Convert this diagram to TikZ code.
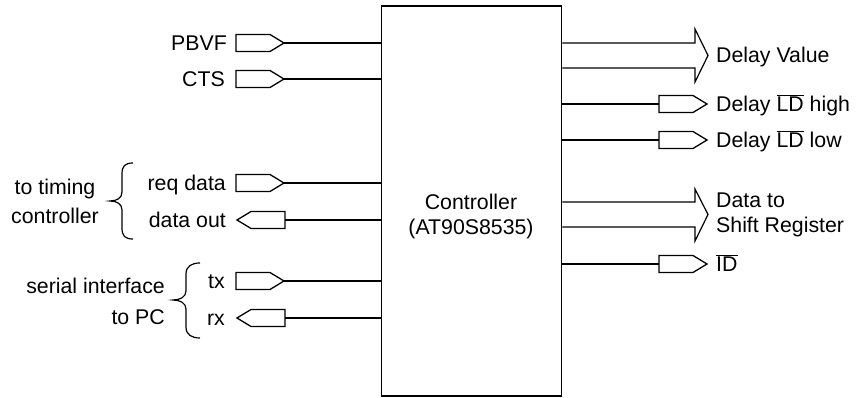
\documentclass[tikz,border=0pt]{standalone}
\usepackage{fontspec}
\setmainfont{Liberation Sans}
\newcommand\ovl[1]{$\overline{\hbox{#1}}$}
\begin{document}
\begin{tikzpicture}[x=1pt,y=-1pt,
  lbl/.style={font=\fontsize{21.3}{25}\selectfont, inner sep=0pt},
  lblE/.style={lbl, anchor=base east},
  lblW/.style={lbl, anchor=base west},
  shp/.style={line width=1.3pt, line join=miter},
  wire/.style={line width=1.2pt},
  bus/.style={line width=1.2pt, line join=miter},
  brace/.style={line width=1.2pt},
  sigR/.pic={\draw[shp] (-24,-8.5) -- (10,-8.5) -- (24,0) -- (10,8.5) -- (-24,8.5) -- cycle;
     \coordinate (-in) at (-24,0); \coordinate (-out) at (24,0);},
  sigL/.pic={\draw[shp] (24,-8.5) -- (-10,-8.5) -- (-24,0) -- (-10,8.5) -- (24,8.5) -- cycle;
     \coordinate (-in) at (24,0); \coordinate (-out) at (-24,0);}]
\useasboundingbox (0,0) rectangle (857,398);
% controller box
\node[draw, line width=1.8pt, minimum width=180pt, minimum height=390pt, inner sep=0pt] (box) at (471.5,201) {};
\node[lbl, align=center] (ctl) at (471,216) {Controller\\(AT90S8535)};
% left inputs
\pic (pbvf) at (260,43) {sigR};
\pic (cts) at (260,79) {sigR};
\pic (req) at (260,183) {sigR};
\pic (dout) at (261,220) {sigL};
\pic (tx) at (260,281) {sigR};
\pic (rx) at (261,318) {sigL};
\node[lblE] (tpbvf) at (227,50.5) {PBVF};
\node[lblE] (tcts) at (225,86.5) {CTS};
\node[lblE] (treq) at (226,190.5) {req data};
\node[lblE] (tdout) at (226,227.5) {data out};
\node[lblE] (ttx) at (225,288.5) {tx};
\node[lblE] (trx) at (225,325.5) {rx};
\foreach \n in {pbvf,cts,tx,req}
  \draw[wire] (\n-out) -- (\n-out -| box.west);
\foreach \n in {dout,rx}
  \draw[wire] (box.west |- \n-in) -- (\n-in);
% braces
\draw[brace] (133,163) .. controls (125,163) and (122,166) .. (122,174) -- (122,192)
  .. controls (122,198) and (117,201) .. (110,201)
  .. controls (117,201) and (122,204) .. (122,210) -- (122,228)
  .. controls (122,236) and (125,239) .. (133,239);
\draw[brace] (200,263) .. controls (192,263) and (186,266) .. (186,274) -- (186,291)
  .. controls (186,297) and (180,300) .. (173,300)
  .. controls (180,300) and (186,303) .. (186,309) -- (186,327)
  .. controls (186,335) and (192,338) .. (200,338);
\node[lbl, align=center, anchor=east] (ttiming) at (99,201) {to timing\\[4pt]controller};
\node[lbl, align=right, anchor=east] (tserial) at (165,301) {serial interface\\[6pt]to PC};
% right outputs
\coordinate (dvT) at (695,43);
\coordinate (dvB) at (695,68);
\draw[bus] (box.east |- dvT) -- (dvT) -- (695,29) -- (708,55.5) -- (695,82) -- (dvB) -- (box.east |- dvB);
\node[lblW] (tdv) at (716,63) {Delay Value};
\pic (ldh) at (683,104) {sigR};
\pic (ldl) at (683,140) {sigR};
\pic (id) at (683,264) {sigR};
\foreach \n in {ldh,ldl,id}
  \draw[wire] (box.east |- \n-in) -- (\n-in);
\node[lblW] (tldh) at (716,111.5) {Delay \ovl{LD} high};
\node[lblW] (tldl) at (716,147.5) {Delay \ovl{LD} low};
\node[lblW] (tid) at (716,271.5) {\ovl{ID}};
\coordinate (dsT) at (695,202);
\coordinate (dsB) at (695,227);
\draw[bus] (box.east |- dsT) -- (dsT) -- (695,189) -- (708,214.5) -- (695,241) -- (dsB) -- (box.east |- dsB);
\node[lbl, align=left, anchor=west] (tds) at (716,215) {Data to\\Shift Register};
\end{tikzpicture}
\end{document}
